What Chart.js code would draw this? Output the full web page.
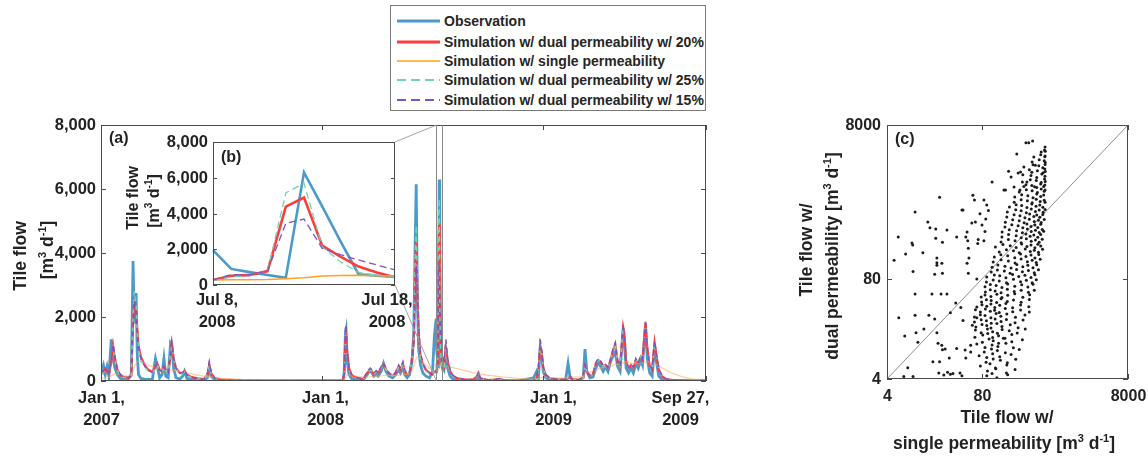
<!DOCTYPE html>
<html><head><meta charset="utf-8">
<script src="https://cdn.jsdelivr.net/npm/chart.js@4.4.1/dist/chart.umd.min.js"></script>
<style>
html,body{margin:0;padding:0;background:#fff;}
#wrap{position:relative;width:1148px;height:459px;overflow:hidden;font-family:"Liberation Sans",Arial,Helvetica,sans-serif;}
#wrap canvas{position:absolute;left:0;top:0;}
#legend{position:absolute;left:390px;top:5px;width:316px;height:106px;border:1px solid #7a7a7a;background:#fff;box-sizing:border-box;z-index:5;}
.row{position:absolute;left:0;height:20px;display:flex;align-items:center;font-weight:bold;font-size:14px;color:#262626;white-space:nowrap;}
.row svg{margin-left:6px;margin-right:4px;display:block;}
</style></head>
<body><div id="wrap">
<canvas id="cMain" width="1148" height="459" style="z-index:1"></canvas>
<canvas id="cInset" width="1148" height="459" style="z-index:2"></canvas>
<canvas id="cScatter" width="1148" height="459" style="z-index:3"></canvas>
<div id="legend"></div>
</div>
<script>
// ---------------- DATA ----------------
// days since Jan 1, 2007
const days = [0,4,7,10,13,17,20,23,27,32,38,45,50,53,55,58,60,62,66,72,78,85,90,93,97,101,104,107,111,115,117,120,124,130,135,138,142,150,160,170,176,179,182,188,200,230,270,320,395,
400,402,404,405,407,410,414,420,428,434,440,445,448,451,455,458,463,467,471,476,482,487,492,495,499,502,506,510,514,517,519,521,523,525,528,532,537,543,548,551,
554,555,556,557,558,559,560,561,562,563,564,567,570,573,577,582,590,600,615,622,624,627,640,662,665,690,715,720,723,726,728,731,735,742,755,768,772,775,779,790,797,
800,803,808,813,818,822,826,830,834,838,842,847,850,854,858,863,865,868,872,876,880,884,888,892,895,900,903,907,911,915,918,922,927,934,945,960,975,985,1000];
const observation = [250,500,200,450,150,1300,700,400,200,80,50,60,200,3750,1800,2750,800,200,80,60,50,60,700,450,100,200,700,150,100,1200,1150,400,100,60,150,300,80,50,30,20,100,450,150,40,20,10,5,5,10,
20,300,1500,1600,600,200,80,50,30,50,200,350,250,150,200,150,300,550,300,150,100,200,350,250,450,200,100,200,600,1500,4000,6150,2500,1000,500,250,150,100,300,1400,
1950,900,720,560,400,6300,4400,2450,600,520,450,350,900,400,150,60,40,30,20,50,150,40,10,20,10,5,100,300,100,1050,900,300,100,30,20,50,550,150,30,20,100,
1000,300,100,120,400,600,450,300,450,300,600,800,900,450,300,1600,1200,400,250,400,250,550,400,650,500,1750,700,250,150,1100,600,150,50,20,10,5,5,5,5];
const dualPerm20 = [300,250,380,300,200,600,1100,700,350,180,120,100,150,1800,2600,2200,1600,1100,750,500,350,280,450,550,350,300,450,350,250,800,1150,700,400,250,250,300,200,120,80,60,200,500,250,80,40,20,10,10,10,
20,200,1300,1400,900,400,200,120,80,60,250,350,300,200,300,250,400,500,350,250,150,250,450,350,550,300,200,250,700,1300,3000,4500,2700,1500,800,500,350,250,200,300,
280,520,550,780,4380,4890,2200,1590,1030,700,430,400,1100,600,300,150,80,50,40,150,250,80,30,60,20,10,10,100,300,1100,900,400,200,80,50,40,80,120,60,40,100,
450,300,150,200,550,650,600,450,500,400,650,1000,1150,600,450,1700,1500,600,400,500,400,650,550,750,650,1850,1000,450,350,1200,800,350,150,60,30,20,10,10,10];
const singlePerm = [80,100,120,120,130,160,200,220,220,200,170,150,150,300,450,550,600,620,600,550,500,450,420,400,380,360,350,330,320,320,330,330,320,300,280,270,250,220,180,150,130,140,130,110,80,50,30,20,20,
20,40,100,150,200,200,180,160,140,120,120,130,140,140,150,150,160,170,180,180,170,170,180,190,200,210,220,240,300,450,600,700,750,750,700,600,500,400,330,300,
280,290,300,310,350,400,500,530,540,520,500,480,470,460,440,420,380,330,260,240,230,220,180,130,120,80,60,60,70,90,110,120,120,110,100,90,110,130,130,120,150,
250,280,280,290,330,380,400,420,430,440,460,500,520,520,520,560,600,600,580,560,540,540,540,550,560,600,620,580,540,530,520,480,420,340,240,140,70,40,20];
const dualPerm25 = [280,250,350,300,200,700,1050,650,320,170,110,100,150,2000,2800,2400,1500,1000,650,450,300,250,400,500,320,280,420,320,230,900,1100,700,380,230,230,280,180,100,70,50,200,480,220,70,30,20,10,10,10,
20,200,1400,1500,800,350,180,110,70,60,250,350,300,200,300,250,400,500,350,250,150,250,420,350,550,300,200,250,700,1300,3500,4850,2800,1400,700,450,300,230,200,300,
250,450,530,800,5150,5690,2130,1300,700,550,430,380,1000,550,280,140,70,40,40,150,240,80,30,60,20,10,10,100,300,1150,900,380,180,80,50,40,100,130,60,40,100,
500,300,150,200,550,650,600,450,500,400,650,1000,1150,600,450,1700,1500,600,400,500,400,650,550,750,650,1850,1000,450,350,1200,800,350,150,60,30,20,10,10,10];
const dualPerm15 = [300,300,400,330,220,650,1150,750,380,200,130,110,150,1700,2500,2100,1500,1000,700,480,330,270,450,520,340,290,450,340,240,850,1200,720,400,250,260,350,200,110,70,50,250,600,280,80,30,20,10,10,10,
20,200,1650,1750,900,400,200,120,80,60,300,400,350,250,320,250,450,570,400,250,160,280,500,400,600,350,220,250,650,1200,2500,3600,2700,1700,900,550,380,260,200,300,
270,580,560,800,3450,3690,2050,1700,1400,1120,840,600,1300,700,350,170,80,50,40,180,280,90,30,80,20,10,10,150,400,1300,1000,450,200,80,50,40,80,150,60,40,120,
500,320,160,210,580,700,620,480,520,420,680,1050,1200,630,460,1760,1500,620,420,520,420,700,560,780,680,1830,1050,480,380,1250,850,380,170,70,30,20,10,20,10];

// inset (b): daily values Jul 8 - Jul 18, 2008
const insetDates = ['Jul 8','Jul 9','Jul 10','Jul 11','Jul 12','Jul 13','Jul 14','Jul 15','Jul 16','Jul 17','Jul 18'];
const insetObservation = [1950,900,720,560,400,6300,4400,2450,600,520,450];
const insetDual20 = [280,520,550,780,4380,4890,2200,1590,1030,700,430];
const insetSingle = [280,290,300,310,350,400,500,530,540,520,500];
const insetDual25 = [250,450,530,800,5150,5690,2130,1300,700,550,430];
const insetDual15 = [270,580,560,800,3450,3690,2050,1700,1400,1120,840];

// axis ticks
const mainTickDays = [0, 365, 731, 1000];
const mainTickLine1 = ['Jan 1,', 'Jan 1,', 'Jan 1,', 'Sep 27,'];
const mainTickLine2 = ['2007', '2008', '2009', '2009'];
const flowTicks = [0, 2000, 4000, 6000, 8000];
const zoomStartDay = 554, zoomEndDay = 564;   // Jul 8 and Jul 18, 2008
const insetTickLine1 = ['Jul 8,', 'Jul 18,'];
const insetTickLine2 = ['2008', '2008'];
const logTicks = [4, 80, 8000];

// scatter (c): [single permeability, dual permeability] tile flow, m3/d
const scatterSparse = [[5.0,140],[5.7,280],[5.8,25],[6.8,4.3],[7.0,14.5],[7.2,168],[7.7,5.6],[8.8,235],[9.0,220],[9.1,100],[9.1,4.3],[9.7,590],[9.7,51],[9.7,27],[10,16],[10.6,12],[12.4,175],[12.8,17.8],[14.5,440],[15,27],[15.5,370],[16.5,51],[17,6.7],[18,24],[18.6,355],[18.6,270],[19.3,150],[19.3,130],[19.3,120],[18,92],[19.3,16],[20,11.7],[20.5,4.8],[21,6.7],[21,920],[22,51],[22.5,11],[23,9.6],[22.6,128],[23,95],[23,240],[24,4.5],[25,9.8],[26.5,345],[26.5,51],[27,4.9],[28.5,7.5],[29.5,4.6],[29.5,29],[32,4.7],[35,39],[36,280],[36,10],[40,4.8],[41,34],[42.5,630],[42.5,4.4],[44,23],[47,9.5],[48,7.5],[48,280],[50,325],[51,250],[50,128],[52,200],[52,95],[53,150],[56,11],[56,9],[58,425],[59,20],[60,980],[63,850],[65,440],[68,25],[68,80],[70,230],[71,260],
[320,4700],[350,4700],[395,4950],[240,3350],[580,3100],[430,2400],[185,2000],[250,1900],[385,1950],[110,1450],[330,1450],[85,850],[160,1140],[168,1140],[265,1140],[300,1270],[420,1260],[44,630],[93,730],[75,560],[80,400],[88,330],[90,480],[98,620],[85,250]];
const scatterDense = [
[93,4.4],[110,4.7],[128,4.15],[180,4.55],
[95,5.1],[124,5.45],[173,4.8],[227,5.3],
[76,5.9],[103,6.3],[122,5.55],[175,6.1],
[91,6.6],[114,7.3],[143,7.0],[178,6.5],[232,7.2],
[73,8.0],[93,7.6],[112,8.5],[140,7.8],[200,8.3],
[86,9.0],[108,9.8],[130,9.4],[167,8.8],[259,9.7],
[68,11.4],[88,10.3],[110,11.1],[132,10.6],[170,11.7],[215,10.2],
[81,12.0],[100,13.2],[114,12.6],[135,11.7],[157,13.5],[205,12.2],[286,12.9],
[64,14.0],[82,14.9],[96,15.6],[112,13.8],[135,14.6],[165,13.5],[205,15.2],
[65,17.3],[78,16.0],[95,17.9],[112,16.4],[130,15.7],[151,17.6],[189,16.9],[243,15.8],[313,17.8],
[66,19.0],[80,20.5],[93,19.8],[106,18.4],[128,21.0],[150,19.2],[195,20.3],[250,18.6],
[63,22.0],[78,23.5],[92,22.9],[107,21.2],[121,24.1],[146,22.4],[173,23.8],[227,21.6],[292,23.3],
[63,25.6],[76,27.4],[88,26.8],[106,25.0],[125,28.3],[145,26.1],[175,27.9],[230,25.3],[310,27.1],
[65,31.8],[76,29.8],[89,32.6],[104,30.4],[119,31.2],[138,29.3],[167,32.9],[211,30.0],[270,31.5],[356,29.6],
[68,34.6],[80,36.9],[93,35.2],[106,37.8],[120,34.0],[140,36.4],[170,38.2],[210,33.8],[270,36.7],[350,34.8],
[79,40.2],[92,43.0],[107,41.8],[127,39.4],[146,44.0],[178,40.6],[216,42.6],[275,39.7],[356,43.3],
[78,46.5],[88,49.5],[106,47.2],[128,50.6],[150,45.8],[180,48.9],[225,51.2],[290,46.3],[360,49.8],
[89,54.2],[104,57.8],[121,55.5],[146,53.0],[178,58.6],[221,54.8],[275,57.0],[346,53.6],[416,56.9],
[88,63.2],[104,67.5],[125,65.8],[150,62.0],[180,68.6],[225,64.1],[280,66.9],[340,62.8],[400,67.9],
[92,72.8],[114,77.5],[138,75.2],[173,71.5],[216,79.0],[270,73.7],[324,76.8],[389,71.2],[443,78.1],
[93,84.5],[118,90.0],[140,87.6],[170,83.0],[210,91.5],[255,85.9],[310,89.2],[375,83.7],[425,90.6],
[107,98],[130,104],[162,101],[194,95],[238,106],[286,99],[346,103],[416,96],[475,105],
[110,113],[132,121],[165,117],[200,111],[240,123],[290,115],[340,120],[400,112],[450,122],
[114,133],[146,142],[184,137],[227,129],[275,145],[335,134],[389,140],[443,131],[502,144],
[118,154],[145,165],[180,160],[225,151],[270,168],[320,156],[375,163],[425,150],[480,166],
[138,179],[173,192],[216,186],[259,175],[313,196],[367,182],[416,189],[475,177],[540,194],
[122,208],[155,224],[195,216],[235,204],[280,228],[330,211],[375,221],[425,203],[465,226],[510,214],
[146,242],[184,260],[227,251],[275,236],[324,265],[378,246],[432,256],[486,239],[535,262],
[150,281],[185,301],[235,292],[275,275],[320,306],[365,286],[410,298],[465,279],[510,303],
[151,325],[189,348],[238,338],[286,318],[335,355],[378,330],[432,343],[486,321],[535,351],[560,334],
[165,378],[205,405],[250,393],[290,370],[330,413],[375,384],[425,400],[465,373],[510,410],
[167,436],[211,468],[259,455],[302,428],[356,477],[416,444],[475,462],[518,431],[570,472],
[175,509],[220,546],[265,530],[310,500],[360,556],[410,518],[450,540],[495,505],[545,551],
[178,592],[232,634],[275,617],[324,581],[378,646],[432,603],[486,627],[551,586],[585,640],
[190,689],[235,738],[280,717],[330,676],[385,752],[440,701],[495,730],[545,684],
[221,795],[275,852],[335,829],[389,781],[443,868],[502,811],[570,843],[585,790],
[225,926],[280,993],[340,966],[400,910],[450,1012],[510,945],[560,983],
[259,1077],[324,1154],[389,1121],[459,1058],[518,1175],[570,1099],[585,1140],
[220,1251],[320,1341],[385,1305],[450,1230],[510,1366],[560,1270],[580,1325],
[286,1455],[367,1560],[443,1515],[518,1430],[575,1590],[588,1480],
[200,1690],[290,1810],[375,1760],[450,1660],[528,1840],[583,1720],
[270,1960],[356,2100],[459,2040],[551,1920],[580,2140],[590,1990],
[300,2270],[400,2430],[480,2360],[545,2220],[585,2450],
[389,2640],[486,2830],[570,2750],[588,2600],
[410,3060],[510,3280],[585,3160],
[518,3560],[575,3800],[588,3650],
[585,4130]];

// ---------------- STYLE ----------------
const FONT = '"Liberation Sans", Arial, Helvetica, sans-serif';
const TXT = '#222';
const AXC = '#4a4a4a';
const C_OBS = '#4b9bca', C_D20 = '#ff3c3c', C_SGL = '#ffa21f', C_D25 = '#6fd4b0', C_D15 = '#7f53c4';
const MAIN = {left:101, top:125, right:706, bottom:381};
const INSET = {left:213, top:142, right:395, bottom:285};
const SCAT = {left:887, top:125, right:1128, bottom:379};
const W = 1148, H = 459;
const TICK = 16.5, TITLE = 17.5;

function pad(a){ return {left:a.left, top:a.top, right:W-a.right, bottom:H-a.bottom}; }
function txt(ctx, s, x, y, size, align, rot){
  ctx.save(); ctx.font = `bold ${size}px ${FONT}`; ctx.fillStyle = TXT;
  ctx.textAlign = align || 'center'; ctx.textBaseline = 'middle';
  ctx.translate(x, y); if (rot) ctx.rotate(rot); ctx.fillText(s, 0, 0); ctx.restore();
}
// text with superscripts: parts = [[string, isSup], ...], centred on (x,y)
function rich(ctx, parts, x, y, size, rot){
  ctx.save(); ctx.translate(x, y); if (rot) ctx.rotate(rot);
  ctx.fillStyle = TXT; ctx.textAlign = 'left'; ctx.textBaseline = 'alphabetic';
  const big = `bold ${size}px ${FONT}`, small = `bold ${Math.round(size*0.62)}px ${FONT}`;
  let w = 0; for (const [s, sup] of parts){ ctx.font = sup ? small : big; w += ctx.measureText(s).width; }
  let cx = -w/2; const base = size*0.36;
  for (const [s, sup] of parts){ ctx.font = sup ? small : big; ctx.fillText(s, cx, sup ? base - size*0.42 : base); cx += ctx.measureText(s).width; }
  ctx.restore();
}
const UNIT = [['[m',0],['3',1],[' d',0],['-1',1],[']',0]];
function box(ctx, a){
  ctx.save(); ctx.strokeStyle = AXC; ctx.lineWidth = 1;
  ctx.strokeRect(Math.round(a.left)+0.5, Math.round(a.top)+0.5, Math.round(a.right-a.left)-1, Math.round(a.bottom-a.top)-1);
  ctx.restore();
}
function seg(ctx, x1, y1, x2, y2, color, w){
  ctx.save(); ctx.strokeStyle = color; ctx.lineWidth = w || 1; ctx.beginPath(); ctx.moveTo(x1, y1); ctx.lineTo(x2, y2); ctx.stroke(); ctx.restore();
}
const base = {animation:false, responsive:false, devicePixelRatio:1, events:[],
  plugins:{legend:{display:false}, tooltip:{enabled:false}}};

function series(vals){ return vals.map((v, i) => ({x: days[i], y: v})); }

// ---------------- MAIN (a) ----------------
new Chart(document.getElementById('cMain'), {
  type:'line',
  data:{datasets:[
    {data:series(dualPerm15), borderColor:C_D15, borderWidth:1.5, borderDash:[5,4], order:0},
    {data:series(dualPerm25), borderColor:C_D25, borderWidth:1.5, borderDash:[5,4], order:1},
    {data:series(singlePerm), borderColor:'rgba(255,170,80,0.55)', borderWidth:1.3, order:2},
    {data:series(dualPerm20), borderColor:C_D20, borderWidth:2.2, order:3},
    {data:series(observation), borderColor:C_OBS, borderWidth:2.8, order:4}
  ]},
  options:Object.assign({}, base, {
    layout:{padding:pad(MAIN)},
    elements:{point:{radius:0}, line:{tension:0}},
    scales:{x:{type:'linear', min:0, max:1000, display:false}, y:{type:'linear', min:0, max:8000, display:false}}
  }),
  plugins:[{id:'mainDeco', afterDraw(chart){
    const ctx = chart.ctx, a = chart.chartArea, xs = chart.scales.x, ys = chart.scales.y;
    box(ctx, a);
    flowTicks.forEach(v => {
      const y = Math.round(ys.getPixelForValue(v)) + 0.5;
      seg(ctx, a.left, y, a.left+5, y, AXC); seg(ctx, a.right-5, y, a.right, y, AXC);
      txt(ctx, v.toLocaleString('en-US'), a.left-5, y, TICK, 'right');
    });
    const shift = [0, 3, 10, -26];
    mainTickDays.forEach((d, i) => {
      const x = Math.round(xs.getPixelForValue(d)) + 0.5;
      seg(ctx, x, a.bottom, x, a.bottom-5, AXC); seg(ctx, x, a.top, x, a.top+5, AXC);
      txt(ctx, mainTickLine1[i], x+shift[i], a.bottom+17, TICK);
      txt(ctx, mainTickLine2[i], x+shift[i], a.bottom+39, TICK);
    });
    // zoom rectangle + connectors
    const zx1 = Math.round(xs.getPixelForValue(zoomStartDay)) + 0.5, zx2 = Math.round(xs.getPixelForValue(zoomEndDay)) + 0.5;
    const zt = ys.getPixelForValue(8000), zb = ys.getPixelForValue(0);
    seg(ctx, zx1, zt, zx1, zb, '#8a8a8a'); seg(ctx, zx2, zt, zx2, zb, '#8a8a8a');
    seg(ctx, INSET.right, INSET.top, zx1, zt, '#9a9a9a', 0.9);
    seg(ctx, INSET.right, INSET.bottom, zx1, zb, '#9a9a9a', 0.9);
    txt(ctx, '(a)', a.left+8, a.top+14, 16, 'left');
    rich(ctx, [['Tile flow',0]], 20, 256, TITLE, -Math.PI/2);
    rich(ctx, UNIT, 47, 250, TITLE, -Math.PI/2);
  }}]
});

// ---------------- INSET (b) ----------------
new Chart(document.getElementById('cInset'), {
  type:'line',
  data:{labels:insetDates, datasets:[
    {data:insetDual15, borderColor:C_D15, borderWidth:1.3, borderDash:[7,4], order:0},
    {data:insetDual25, borderColor:C_D25, borderWidth:1.3, borderDash:[7,4], order:1},
    {data:insetSingle, borderColor:C_SGL, borderWidth:1.5, order:2},
    {data:insetDual20, borderColor:C_D20, borderWidth:2.6, order:3},
    {data:insetObservation, borderColor:C_OBS, borderWidth:2.6, order:4}
  ]},
  options:Object.assign({}, base, {
    layout:{padding:pad(INSET)},
    elements:{point:{radius:0}, line:{tension:0}},
    scales:{x:{type:'category', display:false}, y:{type:'linear', min:0, max:8000, display:false}}
  }),
  plugins:[{id:'insetDeco',
    beforeDatasetsDraw(chart){
      const ctx = chart.ctx, a = chart.chartArea;
      ctx.save(); ctx.fillStyle = '#fff'; ctx.fillRect(a.left, a.top, a.right-a.left, a.bottom-a.top); ctx.restore();
    },
    afterDraw(chart){
      const ctx = chart.ctx, a = chart.chartArea, xs = chart.scales.x, ys = chart.scales.y;
      box(ctx, a);
      flowTicks.forEach(v => {
        const y = Math.round(ys.getPixelForValue(v)) + 0.5;
        seg(ctx, a.left, y, a.left+4, y, AXC); seg(ctx, a.right-4, y, a.right, y, AXC);
        txt(ctx, v.toLocaleString('en-US'), a.left-5, y, TICK, 'right');
      });
      const ends = [0, insetDates.length-1], sh = [4, -8];
      ends.forEach((idx, i) => {
        const x = xs.getPixelForValue(idx);
        txt(ctx, insetTickLine1[i], x+sh[i], a.bottom+15, TICK);
        txt(ctx, insetTickLine2[i], x+sh[i], a.bottom+37, TICK);
      });
      txt(ctx, '(b)', a.left+8, a.top+16, 16, 'left');
      rich(ctx, [['Tile flow',0]], 132, 198, 16, -Math.PI/2);
      rich(ctx, UNIT, 153, 201, 16, -Math.PI/2);
    }}]
});

// ---------------- SCATTER (c) ----------------
const scatterPoints = scatterSparse.concat(scatterDense).map(p => ({x:p[0], y:p[1]}));
new Chart(document.getElementById('cScatter'), {
  type:'scatter',
  data:{datasets:[
    {type:'line', data:[{x:4,y:4},{x:8000,y:8000}], borderColor:'#8e8e8e', borderWidth:1, pointRadius:0, order:1},
    {data:scatterPoints, backgroundColor:'#1c1c1c', borderWidth:0, pointRadius:1.5, order:0}
  ]},
  options:Object.assign({}, base, {
    layout:{padding:pad(SCAT)},
    scales:{x:{type:'logarithmic', min:4, max:8000, display:false}, y:{type:'logarithmic', min:4, max:8000, display:false}}
  }),
  plugins:[{id:'scatDeco', afterDraw(chart){
    const ctx = chart.ctx, a = chart.chartArea, xs = chart.scales.x, ys = chart.scales.y;
    box(ctx, a);
    logTicks.forEach(v => {
      const x = Math.round(xs.getPixelForValue(v)) + 0.5, y = Math.round(ys.getPixelForValue(v)) + 0.5;
      seg(ctx, x, a.bottom, x, a.bottom-5, AXC); seg(ctx, x, a.top, x, a.top+5, AXC);
      seg(ctx, a.left, y, a.left+5, y, AXC); seg(ctx, a.right-5, y, a.right, y, AXC);
      txt(ctx, String(v), x, a.bottom+18, 16);
      txt(ctx, String(v), a.left-6, y, 16, 'right');
    });
    txt(ctx, '(c)', a.left+8, a.top+15, 16, 'left');
    rich(ctx, [['Tile flow w/',0]], 1007, 417, TITLE);
    rich(ctx, [['single permeability ',0]].concat(UNIT), 1004, 443, TITLE);
    rich(ctx, [['Tile flow w/',0]], 806, 250, TITLE, -Math.PI/2);
    rich(ctx, [['dual permeability ',0]].concat(UNIT), 832, 256, TITLE, -Math.PI/2);
  }}]
});

// ---------------- LEGEND ----------------
const legendNames = ['Observation','Simulation w/ dual permeability w/ 20%','Simulation w/ single permeability','Simulation w/ dual permeability w/ 25%','Simulation w/ dual permeability w/ 15%'];
const legendColors = [C_OBS, C_D20, C_SGL, C_D25, C_D15];
const legendWidths = [3, 3, 1.6, 1.8, 1.8];
const legendDash = ['', '', '', '9,5', '9,5'];
const legendRowY = [21, 41.5, 61, 80, 99.5];
const lg = document.getElementById('legend');
legendNames.forEach((n, i) => {
  const r = document.createElement('div'); r.className = 'row';
  r.style.top = (legendRowY[i] - 6 - 10) + 'px';
  r.innerHTML = `<svg width="43" height="8"><line x1="0" y1="4" x2="43" y2="4" stroke="${legendColors[i]}" stroke-width="${legendWidths[i]}" ${legendDash[i] ? `stroke-dasharray="${legendDash[i]}"` : ''}/></svg><span>${n}</span>`;
  lg.appendChild(r);
});
</script>
</body></html>
